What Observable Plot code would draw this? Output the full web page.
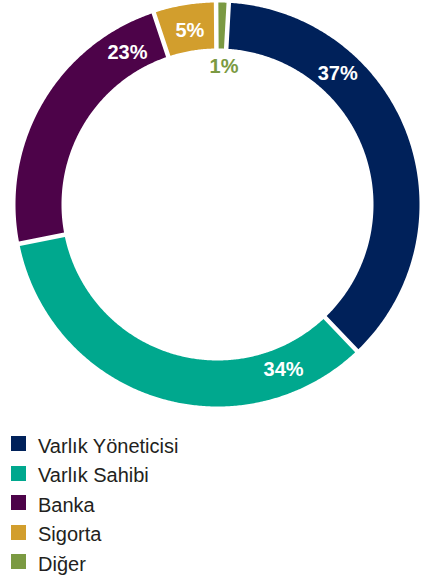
<!DOCTYPE html>
<html>
<head>
<meta charset="utf-8">
<script src="https://cdn.jsdelivr.net/npm/d3@7"></script>
<script src="https://cdn.jsdelivr.net/npm/@observablehq/plot@0.6"></script>
<style>
  html, body { margin: 0; padding: 0; background: #fff; }
  body { width: 424px; height: 577px; overflow: hidden; font-family: "Liberation Sans", Arial, Helvetica, sans-serif; }
  #chart svg { display: block; }
  #legend { padding-top: 16px; }
  .row { display: flex; align-items: flex-end; height: 29.5px; }
  .sw { width: 15px; height: 15px; margin-left: 11px; margin-right: 12px; margin-bottom: 14.5px; flex: none; }
  .lab { font-size: 20px; line-height: 20px; color: #231f20; margin-bottom: 10px; }
</style>
</head>
<body>
<div id="chart"></div>
<div id="legend"></div>
<script>
// ---- data ----
const categories = ["Varlık Yöneticisi", "Varlık Sahibi", "Banka", "Sigorta", "Diğer"];
const shares = [37, 34, 23, 5, 1];
const colors = ["#00215a", "#00a88e", "#4d0349", "#d29e2d", "#7b9a42"];

// ---- layout ----
const W = 424, H = 420;
const startDeg = 3.2;          // rotation of first slice (clockwise from top)
const R = 202, R0 = 156;       // outer / inner radius
const gap = 4.5;               // white gap between slices (px)
const labelAngleFrac = [0.295, 0.178, 0.853, 0.52, 0.86]; // position of label along slice
const labelRadius = [178, 178, 177, 176, 138];
const labelColor = ["#fff", "#fff", "#fff", "#fff", colors[4]];

const total = d3.sum(shares);
const rad = d => d * Math.PI / 180;

const polyPts = [];
const labels = [];
let acc = rad(startDeg);
categories.forEach((cat, i) => {
  const span = shares[i] / total * 2 * Math.PI;
  const a0 = acc, a1 = acc + span;
  acc = a1;
  const n = Math.max(8, Math.ceil(span * 120));
  const dO = Math.asin((gap / 2) / R), dI = Math.asin((gap / 2) / R0);
  for (let k = 0; k <= n; k++) {
    const a = (a0 + dO) + (a1 - a0 - 2 * dO) * k / n;
    polyPts.push({cat, x: R * Math.sin(a), y: R * Math.cos(a)});
  }
  for (let k = n; k >= 0; k--) {
    const a = (a0 + dI) + (a1 - a0 - 2 * dI) * k / n;
    polyPts.push({cat, x: R0 * Math.sin(a), y: R0 * Math.cos(a)});
  }
  const la = a0 + span * labelAngleFrac[i];
  labels.push({cat, text: shares[i] + "%", x: labelRadius[i] * Math.sin(la), y: labelRadius[i] * Math.cos(la), color: labelColor[i]});
});

const chart = Plot.plot({
  width: W, height: H,
  margin: 0,
  x: {domain: [-217, W - 217], axis: null},
  y: {domain: [-(H - 204), 204], axis: null},
  color: {domain: categories, range: colors},
  style: {background: "#fff", fontFamily: "'Liberation Sans', Arial, Helvetica, sans-serif"},
  marks: [
    Plot.line(polyPts, {x: "x", y: "y", z: "cat", fill: "cat", stroke: "none", curve: "linear"}),
    Plot.text(labels, {x: "x", y: "y", text: "text", fill: d => d.color, fontSize: 20, fontWeight: "bold", textAnchor: "middle", lineAnchor: "middle"})
  ]
});
document.getElementById("chart").appendChild(chart);

const legend = document.getElementById("legend");
categories.forEach((cat, i) => {
  const row = document.createElement("div");
  row.className = "row";
  const sw = document.createElement("div");
  sw.className = "sw";
  sw.style.background = colors[i];
  const lab = document.createElement("div");
  lab.className = "lab";
  lab.textContent = cat;
  row.appendChild(sw);
  row.appendChild(lab);
  legend.appendChild(row);
});
</script>
</body>
</html>
